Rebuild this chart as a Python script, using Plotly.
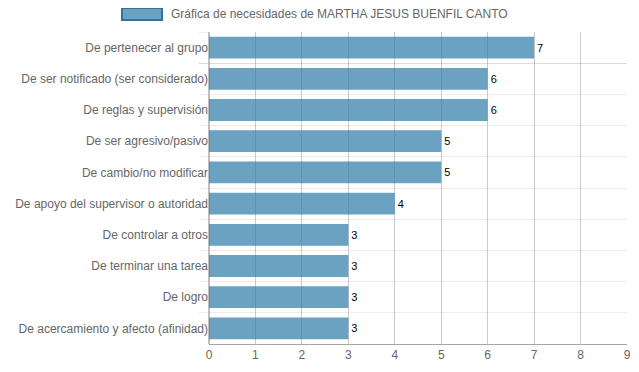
import plotly.graph_objects as go

categories = [
    "De pertenecer al grupo",
    "De ser notificado (ser considerado)",
    "De reglas y supervisión",
    "De ser agresivo/pasivo",
    "De cambio/no modificar",
    "De apoyo del supervisor o autoridad",
    "De controlar a otros",
    "De terminar una tarea",
    "De logro",
    "De acercamiento y afecto (afinidad)",
]
values = [7, 6, 6, 5, 5, 4, 3, 3, 3, 3]
x_ticks = list(range(0, 10))
legend_label = "Gráfica de necesidades de MARTHA JESUS BUENFIL CANTO"

FONT = "Arial, Liberation Sans, Helvetica, sans-serif"

fig = go.Figure()
fig.add_trace(go.Bar(
    y=categories,
    x=values,
    orientation="h",
    marker=dict(color="rgba(40,120,165,0.69)", line=dict(width=0)),
    width=0.7,
    text=[str(v) for v in values],
    textposition="outside",
    textfont=dict(family=FONT, size=11, color="#000"),
    cliponaxis=False,
    showlegend=False,
))

PW = 418  # plot width in px

# page body adds an 8px offset; compensate in size and margins
fig.update_layout(
    width=623,
    height=356,
    margin=dict(l=201, r=4, t=24, b=20, autoexpand=False),
    paper_bgcolor="white",
    plot_bgcolor="white",
    font=dict(family=FONT, size=12, color="#666"),
    bargap=0.3,
    xaxis=dict(
        range=[0, 9],
        tickvals=x_ticks,
        automargin=False,
        ticklabeloverflow="allow",
        layer="above traces",
        showgrid=True,
        gridcolor="rgba(0,0,0,0.2)",
        gridwidth=1,
        zeroline=True,
        zerolinecolor="rgba(0,0,0,0.25)",
        showline=True,
        linecolor="rgba(0,0,0,0.35)",
        ticks="",
        tickfont=dict(size=12, color="#666"),
    ),
    yaxis=dict(
        type="category",
        autorange="reversed",
        automargin=False,
        tickson="boundaries",
        showgrid=True,
        gridcolor="rgba(0,0,0,0.07)",
        ticks="outside",
        ticklen=9,
        tickcolor="rgba(0,0,0,0.07)",
        showline=False,
        tickfont=dict(size=12, color="#666"),
    ),
    shapes=[dict(
        type="rect", xref="paper", yref="paper",
        x0=(122 - 209) / PW, x1=(162 - 209) / PW,
        y0=(344 - 8) / 312, y1=(344 - 20) / 312,
        fillcolor="rgba(40,120,165,0.69)",
        line=dict(color="#2f74a0", width=2),
    )],
    annotations=[dict(
        xref="paper", yref="paper",
        x=(169 - 209) / PW, y=(344 - 14) / 312,
        xanchor="left", yanchor="middle",
        text=legend_label, showarrow=False,
        font=dict(family=FONT, size=12, color="#666"),
    )],
)

fig.write_html("out.html")
